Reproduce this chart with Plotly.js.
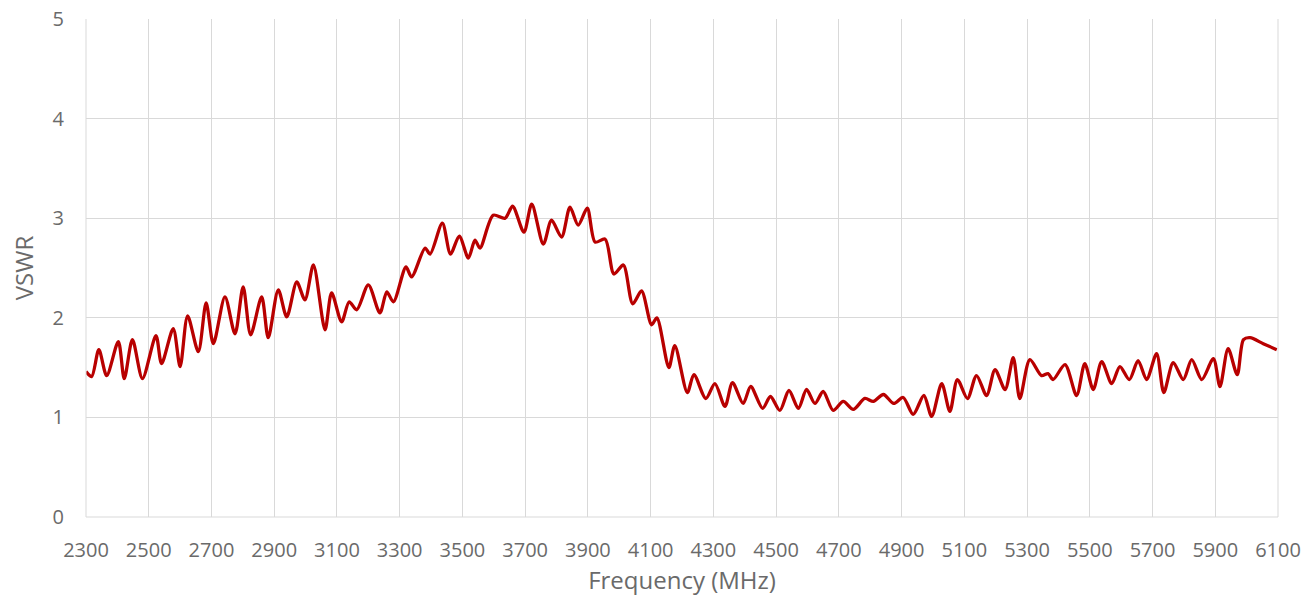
<!DOCTYPE html>
<html>
<head>
<meta charset="utf-8">
<script src="https://cdn.plot.ly/plotly-3.0.1.min.js"></script>
<style>html,body{margin:0;padding:0;background:#fff;}#chart{width:1312px;height:597px;}</style>
</head>
<body>
<div id="chart"></div>
<script>
const frequency = [2300,2318,2341,2366,2403,2422,2448,2480,2523,2541,2578,2600,2624,2658,2683,2706,2743,2775,2801,2825,2860,2881,2913,2940,2972,2998,3025,3062,3083,3115,3139,3163,3200,3237,3259,3280,3320,3338,3381,3397,3436,3462,3490,3519,3540,3556,3598,3636,3660,3696,3721,3758,3784,3816,3843,3869,3898,3923,3955,3983,4013,4043,4071,4103,4120,4158,4177,4217,4238,4276,4305,4337,4361,4395,4419,4457,4482,4512,4541,4571,4597,4624,4650,4682,4714,4746,4783,4810,4842,4875,4905,4937,4971,4996,5028,5054,5078,5110,5139,5171,5198,5230,5256,5277,5309,5346,5367,5383,5421,5458,5484,5511,5538,5570,5596,5626,5654,5681,5713,5736,5766,5798,5825,5857,5894,5915,5941,5970,5990,6011,6053,6096];
const vswr = [1.46,1.41,1.68,1.42,1.76,1.39,1.78,1.39,1.82,1.54,1.89,1.51,2.02,1.66,2.15,1.74,2.21,1.84,2.31,1.83,2.21,1.80,2.28,2.01,2.36,2.18,2.53,1.88,2.25,1.96,2.16,2.08,2.33,2.05,2.26,2.16,2.51,2.41,2.70,2.64,2.95,2.64,2.82,2.60,2.78,2.70,3.03,3.00,3.12,2.86,3.14,2.74,2.98,2.81,3.11,2.93,3.10,2.76,2.79,2.44,2.53,2.14,2.27,1.93,2.00,1.50,1.72,1.25,1.43,1.19,1.34,1.11,1.35,1.14,1.31,1.09,1.21,1.07,1.27,1.09,1.28,1.14,1.26,1.07,1.16,1.08,1.19,1.16,1.23,1.14,1.20,1.03,1.22,1.01,1.34,1.06,1.38,1.19,1.42,1.22,1.48,1.28,1.60,1.19,1.58,1.42,1.44,1.38,1.53,1.22,1.54,1.28,1.56,1.34,1.51,1.38,1.57,1.38,1.64,1.25,1.55,1.38,1.58,1.38,1.59,1.31,1.69,1.43,1.78,1.80,1.74,1.68];
const xTitle = 'Frequency (MHz)';
const yTitle = 'VSWR';

const trace = {
  x: frequency, y: vswr, type: 'scatter', mode: 'lines',
  line: {color: '#B80000', width: 3.3, shape: 'spline', smoothing: 0.8},
  hoverinfo: 'x+y'
};
const fam = 'Open Sans, Liberation Sans, sans-serif';
const txt = '#6A6A6A';
const layout = {
  width: 1312, height: 597,
  margin: {l: 86, r: 34, t: 19, b: 80},
  paper_bgcolor: '#fff', plot_bgcolor: '#fff',
  showlegend: false,
  font: {family: fam, color: txt},
  xaxis: {
    range: [2300, 6100], tick0: 2300, dtick: 200,
    showgrid: true, gridcolor: '#D9D9D9', gridwidth: 1,
    zeroline: false, showline: false, automargin: false,
    ticks: 'outside', ticklen: 15, tickcolor: 'rgba(0,0,0,0)',
    tickfont: {size: 20, color: txt, family: fam},
    title: {text: xTitle, font: {size: 24, color: txt, family: fam}, standoff: 3}
  },
  yaxis: {
    range: [0, 5], dtick: 1,
    showgrid: true, gridcolor: '#D9D9D9', gridwidth: 1,
    zeroline: false, showline: false, automargin: false,
    ticks: 'outside', ticklen: 17, tickcolor: 'rgba(0,0,0,0)',
    tickfont: {size: 20, color: txt, family: fam},
    title: {text: yTitle, font: {size: 24, color: txt, family: fam}, standoff: 12}
  },
  shapes: [
    {type: 'line', xref: 'paper', yref: 'paper', x0: 0, x1: 1, y0: 0, y1: 0, line: {color: '#D9D9D9', width: 1}},
    {type: 'line', xref: 'paper', yref: 'paper', x0: 1, x1: 1, y0: 0, y1: 1, line: {color: '#D9D9D9', width: 1}},
    {type: 'line', xref: 'paper', yref: 'paper', x0: 0, x1: 0, y0: 0, y1: 1, line: {color: '#D9D9D9', width: 1}}
  ]
};
Plotly.newPlot('chart', [trace], layout, {displayModeBar: false, staticPlot: true});
</script>
</body>
</html>
